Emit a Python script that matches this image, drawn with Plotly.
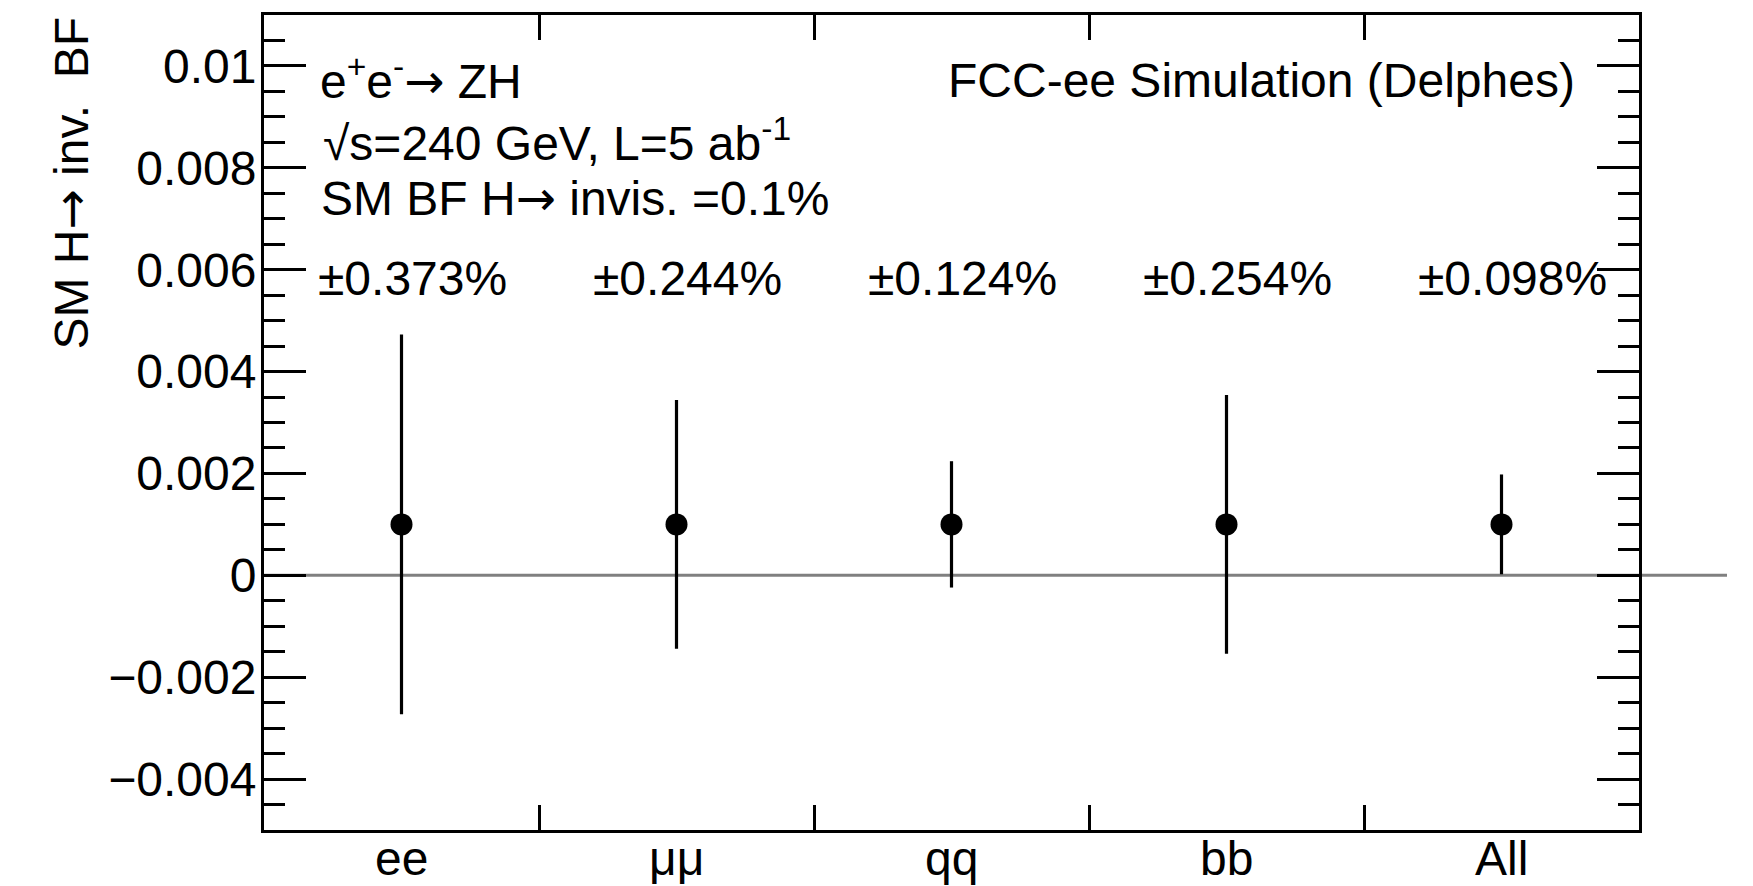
import plotly.graph_objects as go

# ---- data ----
categories = ["ee", "μμ", "qq", "bb", "All"]
central_values = [0.001, 0.001, 0.001, 0.001, 0.001]
errors = [0.00373, 0.00244, 0.00124, 0.00254, 0.00098]
y_tick_vals = [-0.004, -0.002, 0.0, 0.002, 0.004, 0.006, 0.008, 0.01]
y_tick_text = ["−0.004", "−0.002", "0", "0.002", "0.004", "0.006", "0.008", "0.01"]
bin_edges = [1, 2, 3, 4]
ARROW = "<span style='font-family:DejaVu Sans'>→</span>"
info_lines = ["e<sup>+</sup>e<sup>-</sup>" + ARROW + " ZH",
              "√s=240 GeV, L=5 ab<sup>-1</sup>",
              "SM BF H" + ARROW + " invis. =0.1%"]
label_text = "FCC-ee Simulation (Delphes)"
y_title = "SM H" + ARROW + " inv.  BF"

W, H = 1753, 886
L, R, T, B = 264, 1753 - 1639, 15, 886 - 830
PW, PH = W - L - R, H - T - B
FONT = "Liberation Sans, Arial, Helvetica, sans-serif"
FS = 48

def px_x(p):
    return (p - L) / PW

def px_y(p):
    return (H - B - p) / PH

x_pos = [i + 0.5 for i in range(len(categories))]

fig = go.Figure()
fig.add_trace(go.Scatter(
    x=x_pos, y=central_values, mode="markers",
    marker=dict(size=22, color="black", symbol="circle"),
    error_y=dict(type="data", array=errors, visible=True,
                 thickness=3.2, width=0, color="black"),
    showlegend=False,
))

# zero line extending past right frame
fig.add_shape(type="line", xref="paper", yref="y", x0=0, x1=px_x(1727),
              y0=0, y1=0, line=dict(color="#808080", width=3), layer="below")

annotations = []
line_y = [78, 140, 198]
line_x = [318, 321, 319]
for txt, yy, xx in zip(info_lines, line_y, line_x):
    annotations.append(dict(text=txt, xref="paper", yref="paper",
                            x=px_x(xx), y=px_y(yy), xanchor="left", yanchor="middle",
                            showarrow=False, font=dict(size=FS, color="black", family=FONT)))
annotations.append(dict(text=label_text, xref="paper", yref="paper",
                        x=px_x(1577), y=px_y(81), xanchor="right", yanchor="middle",
                        showarrow=False, font=dict(size=FS, color="black", family=FONT)))
for i, e in enumerate(errors):
    annotations.append(dict(text=f"±{e*100:.3f}%", xref="x", yref="paper",
                            x=i + 0.19, y=px_y(278), xanchor="left", yanchor="middle",
                            showarrow=False, font=dict(size=FS, color="black", family=FONT)))
for xp, cat in zip(x_pos, categories):
    annotations.append(dict(text=cat, xref="x", yref="paper",
                            x=xp, y=px_y(858), xanchor="center", yanchor="middle",
                            showarrow=False, font=dict(size=FS, color="black", family=FONT)))
annotations.append(dict(text=y_title, xref="paper", yref="paper", textangle=-90,
                        x=px_x(70), y=1.0, xanchor="center", yanchor="top",
                        showarrow=False, font=dict(size=FS, color="black", family=FONT)))

fig.update_layout(
    width=W, height=H, autosize=False,
    margin=dict(l=L, r=R, t=T, b=B, pad=0),
    paper_bgcolor="white", plot_bgcolor="white",
    font=dict(family=FONT, size=FS, color="black"),
    annotations=annotations,
    xaxis=dict(range=[0, 5], tickmode="array", tickvals=bin_edges,
               showticklabels=False, automargin=False,
               ticks="inside", ticklen=25, tickwidth=3, tickcolor="black",
               showgrid=False, zeroline=False,
               showline=True, linewidth=3, linecolor="black", mirror="ticks"),
    yaxis=dict(range=[-0.005, 0.011], tickmode="array", tickvals=y_tick_vals,
               ticktext=y_tick_text, ticks="inside", ticklen=42, tickwidth=3,
               tickcolor="black", showgrid=False, zeroline=False, automargin=False,
               ticklabelstandoff=-5,
               showline=True, linewidth=3, linecolor="black", mirror="ticks",
               tickfont=dict(size=FS, family=FONT, color="black"),
               minor=dict(tickmode="linear", tick0=0, dtick=0.0005, ticks="inside",
                          ticklen=21, tickwidth=3, tickcolor="black", showgrid=False)),
)

fig.write_html("out.html")
